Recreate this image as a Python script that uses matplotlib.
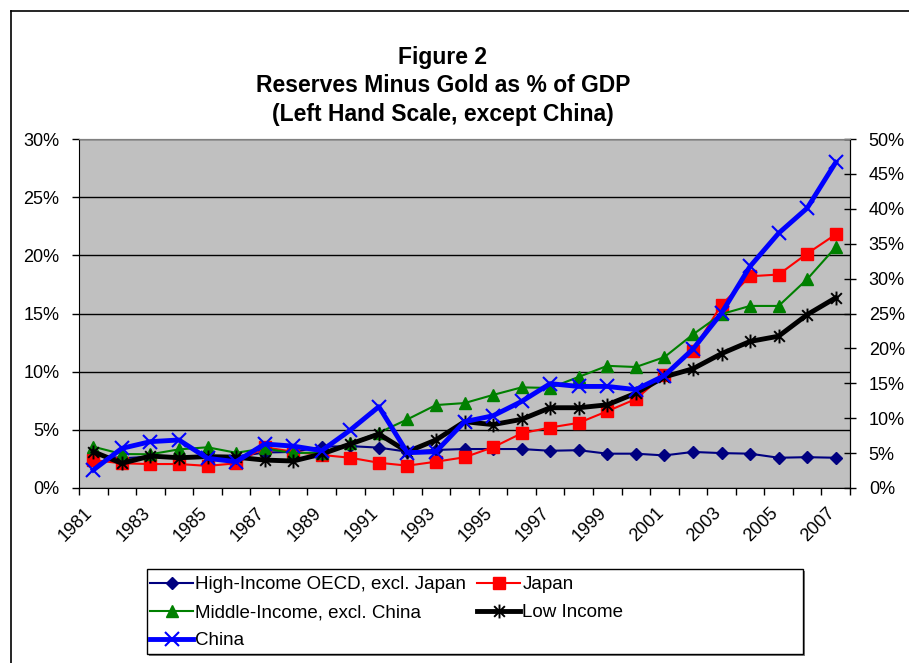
"""
Figure 2: Reserves minus gold as % of GDP
"""

import numpy as np
import matplotlib
matplotlib.use("Agg")
import matplotlib.pyplot as plt
from matplotlib.path import Path
from matplotlib.patches import Rectangle
from matplotlib.lines import Line2D
from matplotlib.ticker import FuncFormatter
import matplotlib.transforms as mtransforms

plt.rcParams['font.family'] = ['Liberation Sans', 'DejaVu Sans']

years = list(range(1981, 2008))

high_income = [2.9, 2.55, 2.7, 2.7, 2.75, 2.7, 3.05, 3.1, 3.55, 3.6, 3.47, 3.12, 3.27, 3.35,
               3.35, 3.35, 3.2, 3.25, 2.95, 2.95, 2.8, 3.1, 3.0, 2.95, 2.6, 2.65, 2.6]
japan = [2.4, 2.12, 2.06, 2.06, 1.9, 2.12, 3.5, 3.12, 2.84, 2.6, 2.17, 1.92, 2.26, 2.64,
         3.5, 4.7, 5.2, 5.6, 6.6, 7.65, 9.75, 11.8, 15.75, 18.2, 18.35, 20.15, 21.8]
middle_income = [3.55, 2.92, 2.9, 3.32, 3.5, 3.03, 3.4, 3.0, 3.05, 3.84, 4.75, 5.9, 7.13, 7.3,
                 8.0, 8.65, 8.6, 9.55, 10.5, 10.4, 11.25, 13.2, 14.95, 15.65, 15.65, 17.95, 20.7]
low_income = [3.12, 2.12, 2.75, 2.6, 2.7, 2.65, 2.4, 2.32, 2.92, 3.78, 4.64, 3.12, 4.13, 5.7,
              5.45, 5.9, 6.9, 6.9, 7.15, 8.15, 9.55, 10.25, 11.55, 12.6, 13.05, 14.9, 16.35]
china = [2.58, 5.68, 6.64, 6.88, 4.25, 3.77, 6.3, 6.0, 5.35, 8.3, 11.65, 5.06, 5.2, 9.5,
         10.35, 12.4, 14.95, 14.55, 14.55, 14.1, 16.1, 19.9, 25.05, 31.75, 36.5, 40.1, 46.65]

labels = ['High-Income OECD, excl. Japan', 'Japan', 'Middle-Income, excl. China',
          'Low Income', 'China']

# excel style star: an x with a vertical bar
star = Path([(-1, -1), (1, 1), (-1, 1), (1, -1), (0, -1.3), (0, 1.3)],
            [Path.MOVETO, Path.LINETO, Path.MOVETO, Path.LINETO, Path.MOVETO, Path.LINETO])

W, H = 909, 663
fig = plt.figure(figsize=(W / 100, H / 100), dpi=100)

left, right, top, bottom = 79, 850, 139, 488
ax = fig.add_axes([left / W, 1 - bottom / H, (right - left) / W, (bottom - top) / H])
ax.set_facecolor('#C0C0C0')
ax2 = ax.twinx()

x = np.arange(len(years))

h1, = ax.plot(x, high_income, color='#000080', lw=1.5, marker='D', ms=6.5, label=labels[0])
h2, = ax.plot(x, japan, color='#FF0000', lw=1.5, marker='s', ms=8, label=labels[1])
h3, = ax.plot(x, middle_income, color='#008000', lw=1.5, marker='^', ms=8.5, label=labels[2])
h4, = ax.plot(x, low_income, color='black', lw=3.5, marker=star, ms=10, mew=1.4,
              mfc='none', mec='black', label=labels[3])
h5, = ax2.plot(x, china, color='#0000FF', lw=3.5, marker='x', ms=10, mew=1.5, label=labels[4])

ax.set_xlim(-0.5, len(years) - 0.5)
ax.set_ylim(0, 30)
ax2.set_ylim(0, 50)
ax.set_yticks(np.arange(0, 31, 5))
ax2.set_yticks(np.arange(0, 51, 5))
pct = FuncFormatter(lambda v, p: '%d%%' % v)
ax.yaxis.set_major_formatter(pct)
ax2.yaxis.set_major_formatter(pct)

ax.yaxis.grid(True, color='black', lw=1)
ax.set_axisbelow(True)

# ticks between categories, labels on odd years
ax.set_xticks(np.arange(len(years) + 1) - 0.5)
ax.set_xticklabels([])
ax.set_xticks(x[::2], [str(y) for y in years[::2]], minor=True)
ax.tick_params(axis='x', which='major', direction='out', length=5, width=1)
ax.tick_params(axis='x', which='minor', length=0, pad=12, labelsize=13)
offset = mtransforms.ScaledTranslation(-9 / 100, 0, fig.dpi_scale_trans)
for lbl in ax.get_xticklabels(minor=True):
    lbl.set_rotation(45)
    lbl.set_ha('right')
    lbl.set_va('top')
    lbl.set_rotation_mode('anchor')
    lbl.set_transform(lbl.get_transform() + offset)

ax.tick_params(axis='y', direction='out', length=5, width=1, pad=9, labelsize=13)
ax2.tick_params(axis='y', direction='inout', length=9, width=1, pad=9, labelsize=13)

for sp in ax.spines.values():
    sp.set_color('black')
ax.spines['top'].set_color('#808080')
ax2.spines['top'].set_color('#808080')
ax2.spines['left'].set_visible(False)
ax2.spines['bottom'].set_visible(False)

fig.text(443 / W, 1 - 86 / H, 'Figure 2\nReserves Minus Gold as % of GDP\n(Left Hand Scale, except China)',
         ha='center', va='center', fontsize=16.5, fontweight='bold', linespacing=1.3)

# outer chart border
fig.add_artist(Line2D([11 / W, 11 / W], [0, 1 - 11 / H], color='black', lw=1.2))
fig.add_artist(Line2D([11 / W, 1], [1 - 11 / H, 1 - 11 / H], color='black', lw=1.2))

# legend box with shadow
lx0, ly0, lx1, ly1 = 147, 569, 803, 654
fig.add_artist(Rectangle(((lx0 + 2) / W, 1 - (ly1 + 2) / H), (lx1 - lx0) / W, (ly1 - ly0) / H,
                         facecolor='#808080', edgecolor='none'))
fig.add_artist(Rectangle((lx0 / W, 1 - ly1 / H), (lx1 - lx0) / W, (ly1 - ly0) / H,
                         facecolor='white', edgecolor='black', lw=1))
fig.legend([h1, h3, h5, h2, h4], [labels[0], labels[2], labels[4], labels[1], labels[3]],
           ncol=2, loc='upper left', bbox_to_anchor=(150 / W, 1 - 576 / H),
           frameon=False, fontsize=13.5, numpoints=1, handlelength=2.3, handletextpad=0.1,
           columnspacing=0.6, labelspacing=0.58, borderaxespad=0, borderpad=0)

fig.savefig('out.png', dpi=100)
